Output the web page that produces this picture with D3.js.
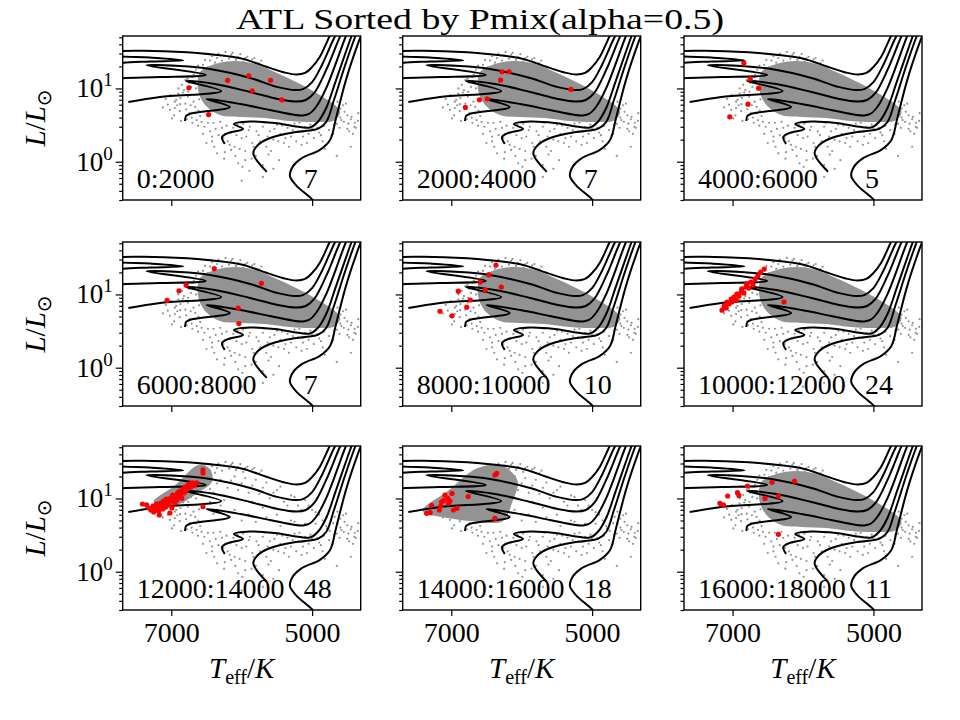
<!DOCTYPE html>
<html>
<head>
<meta charset="utf-8">
<script src="https://cdnjs.cloudflare.com/ajax/libs/d3/7.8.5/d3.min.js"></script>
<style>
body { margin: 0; background: #fff; }
svg { display: block; }
</style>
</head>
<body>
<div id="viz"></div>
<script>
// ========================================
// Data (Teff in K, L in Lsun)
// ========================================

var title = "ATL Sorted by Pmix(alpha=0.5)";
var ranges = ["0:2000", "2000:4000", "4000:6000", "6000:8000", "8000:10000",
              "10000:12000", "12000:14000", "14000:16000", "16000:18000"];
var counts = [7, 7, 5, 7, 10, 24, 48, 18, 11];
var xTicks = [7000, 5000];
var yMajor = [1, 10];
var yMinor = [0.3, 0.4, 0.5, 0.6, 0.7, 0.8, 0.9, 2, 3, 4, 5, 6, 7, 8, 9, 20, 30, 40, 50];

// evolutionary tracks
var tracks = [
  [[7870,21.6],[7690,22.5],[7300,23.3],[6830,24.2],[7300,26.5],[7800,28.6],[7800,31.0],[7260,32.5],[6590,30.2],[6020,25.8],[5650,19.8],[5390,16.5],[5220,15.5],[5100,16.3],[5000,19.6],[4890,27.1],[4750,52],[4680,69]],
  [[7870,13.2],[7690,13.8],[7160,14.3],[6510,15.3],[7350,20.7],[6880,20.2],[6450,18.4],[5880,13.9],[5500,10.5],[5240,9.5],[5130,9.8],[5000,12.2],[4860,20.9],[4680,50.4],[4600,66.8]],
  [[7610,6.53],[7160,7.64],[6290,9.23],[6790,12.6],[6380,11.5],[5880,8.95],[5490,7.18],[5220,6.63],[5090,6.95],[4970,8.67],[4800,17.9],[4600,52],[4530,69]],
  [[6805,3.59],[6790,4.21],[6720,4.55],[6170,5.58],[6500,7.18],[6020,6.13],[5600,5.08],[5240,4.34],[5130,4.28],[5045,4.48],[4945,5.58],[4800,10.1],[4520,52],[4460,69]],
  [[6240,1.75],[6280,2.17],[6195,2.46],[5980,2.80],[6110,3.27],[5880,3.54],[5530,3.38],[5170,2.98],[5030,2.93],[4920,3.48],[4800,5.41],[4660,13.0],[4440,52],[4390,69]],
  [[5645,0.73],[5835,1.30],[5770,1.69],[5630,2.04],[5385,2.39],[5100,2.63],[4920,2.80],[4800,3.48],[4690,6.95],[4530,20.9],[4385,52],[4335,69]],
  [[4920,0.248],[5006,0.31],[5230,0.48],[5315,0.64],[5270,0.87],[5145,1.12],[4890,1.45],[4745,1.98],[4660,3.95],[4520,13.0],[4350,40.5],[4290,57]]
];

// dense part of the background sample
var greyBand = [[6590,16.8],[6380,21.6],[6095,23.7],[5810,21.6],[5530,16.8],[5170,11.5],[4890,8.15],[4660,5.77],[4600,4.77],[4675,3.71],[4960,3.48],[5315,3.59],[5670,3.95],[6025,4.08],[6310,4.34],[6520,5.94],[6620,9.5]];
var greyPatch7 = [[7250,9.0],[6950,15],[6600,29],[6450,25],[6420,17],[6650,11.5],[6950,8.0]];
var greyPatch8 = [[7406,6.74],[7051,12.6],[6625,26.1],[6270,27.7],[6057,17.3],[6128,9.2],[6270,4.9],[6696,4.9],[7051,5.41]];

// sparse background stars
var greyDots = [
  [7020,5.1],[6950,5.4],[6880,4.9],[6800,6.2],[6740,4.6],[6660,5.6],[6590,4.2],[6950,6.6],[6870,7.4],[6780,3.8],
  [6700,3.4],[6620,3.1],[6900,8.5],[7050,6.0],[6820,9.5],[6530,3.0],[6450,2.6],[6400,3.4],[6330,2.3],[6280,2.9],
  [6200,1.9],[6150,2.5],[6100,1.6],[6060,3.2],[6000,2.1],[5950,1.4],[5900,2.7],[5850,1.8],[5800,1.2],[5760,2.3],
  [5700,3.0],[5650,1.6],[5600,2.6],[5550,2.0],[5500,3.2],[5450,2.4],[5400,1.8],[5350,2.9],[5300,2.2],[5250,3.3],
  [5200,2.6],[5150,1.7],[5100,3.0],[5050,2.4],[5000,2.8],[4950,3.2],[4900,2.5],[4850,1.9],[6350,1.3],[6250,1.1],
  [6050,0.95],[5950,1.05],[5700,0.9],[6150,1.45],[4800,4.2],[4750,3.6],[4700,4.6],[4650,3.3],[4600,4.0],[4550,3.5],
  [4500,4.3],[4450,3.8],[4400,3.0],[4350,3.6],[4500,2.8],[4700,2.4],[4820,1.5],[4420,2.4],[4600,5.3],[6650,18.0],
  [6550,21.0],[6450,24.0],[6350,26.0],[6250,28.0],[6150,29.0],[6050,27.0],[5950,26.0],[5850,25.0],[6700,14.5],[6750,12.0],
  [6720,10.5],[5750,22.0],[6500,15],[6400,12],[6300,18],[6200,14],[6100,20],[6000,16],[5900,12],[5800,18],
  [5700,14],[5600,10],[5500,13],[5400,9],[5300,11],[5200,8],[5100,9.5],[5000,7],[4900,6],[4800,5.5],
  [6300,8],[6100,7],[5900,6],[5700,7.5],[5500,6],[5300,5],[5100,4.5],[4950,4.5],[6450,9],[6550,11],
  [6200,5.5],[5800,4.8],
  [7080,7.2],[7010,8.1],[6960,4.3],[6915,5.9],[6860,3.6],[6835,8.8],[6790,5.2],[6765,7.7],[6710,4.0],[6685,6.6],
  [6640,3.7],[6605,7.1],[7120,5.5],[6990,3.9],[6930,7.0],[6875,6.1],[6725,5.9],[6655,4.6],[6570,3.5],[6615,5.0],
  [6480,3.4],[6420,2.2],[6370,2.8],[6305,3.5],[6260,2.1],[6215,3.1],[6170,1.7],[6120,2.9],[6075,2.3],[6030,1.5],
  [5980,3.3],[5935,2.2],[5885,3.0],[5830,1.6],[5790,2.6],[5735,1.9],[5680,3.4],[5630,2.2],[5585,1.4],[5535,2.8],
  [5480,1.9],[5425,3.1],[5380,2.1],[5330,1.6],[5275,2.7],[5225,1.9],[5180,3.4],[5130,2.2],[5075,1.8],[5025,3.2],
  [4975,2.1],[4925,2.9],[4875,2.3],[4830,3.1],[6390,1.6],[6240,1.35],[6090,1.2],[5990,0.85],[5860,1.1],[5620,1.25],
  [5470,1.05],[5890,0.75],[6420,1.9],[6550,2.4],[6500,1.8],
  [4790,3.9],[4735,5.0],[4690,3.2],[4640,4.5],[4585,3.7],[4540,4.8],[4485,3.3],[4440,4.1],[4395,3.4],[4345,4.6],
  [4475,2.6],[4610,2.9],[4760,2.7],[4560,5.9],[4680,5.6],[4380,2.9],[4520,6.2],[4640,6.6],
  [6620,20.5],[6520,24.5],[6420,27.5],[6330,30.0],[6230,31.5],[6130,30.5],[6020,29.5],[5920,27.0],[5820,26.0],[5720,24.0],
  [6480,19.5],[6380,22.5],[6280,24.0],[6180,25.5],[6080,24.5],[5980,23.0],[6570,16.5],[6680,15.5],[6770,13.5],[6760,9.0],
  [6850,11.2],[6800,13.0],[6700,12.5],[6650,10.0],[6900,10.0],
  [6000,0.55],[5700,0.62],[5550,0.8],[4650,1.2],[4450,1.6],
  [6450,13.5],[6350,16],[6250,11],[6150,17.5],[6050,13],[5950,19],[5850,15],[5750,11.5],[5650,16.5],[5550,12],
  [5450,14.5],[5350,8],[5250,10.5],[5150,7],[5050,8],[4950,6.5],[4850,5],[4750,4.5],[5650,5.5],[5450,4.2],
  [5250,4.8],[6000,5],[6400,6.2],[6250,9.5],[5850,9]
];

// selected stars, one list per bin
var red0 = [[6750,10.2],[6470,4.4],[6200,12.9],[5900,14.9],[5850,9.3],[5590,12.9],[5430,7.0]];
var red1 = [[6800,5.5],[6600,7.0],[6490,7.2],[6300,13.0],[6280,16.9],[6180,16.9],[5300,9.7]];
var red2 = [[6840,22.2],[6750,13.5],[6780,6.1],[7040,4.1],[6630,10.1]];
var red3 = [[6390,22.5],[6790,13.5],[6890,11.2],[7060,8.3],[6050,6.5],[6040,4.0],[5720,14.2]];
var red4 = [[6365,25.2],[6465,18.5],[6590,14.8],[6730,8.4],[6900,11.1],[7160,5.9],[6990,5.1],[6520,11.5],[6290,12.6],[6780,6.7]];
var red5 = [[7150,6.1],[7120,6.95],[7090,6.53],[7080,7.89],[7050,7.41],[7020,8.67],[7010,7.89],[6980,9.2],[6950,8.4],[6940,10.1],
            [6910,9.5],[6880,10.8],[6870,11.9],[6840,10.5],[6810,12.6],[6800,13.9],[6770,12.2],[6740,14.8],[6710,13.5],[6680,16.3],
            [6640,17.9],[6600,20.2],[6550,22.2],[6270,7.9]];
var red6 = [[7350,8.15],[7320,7.41],[7290,6.95],[7260,7.89],[7250,6.53],[7220,7.18],[7210,8.4],[7190,7.64],[7180,6.74],[7170,5.94],
            [7150,8.67],[7140,7.89],[7120,7.18],[7110,9.2],[7090,8.4],[7080,7.64],[7070,9.8],[7050,8.95],[7040,8.15],[7020,6.33],
            [7010,10.1],[6990,9.2],[6990,7.41],[6980,11.1],[6970,9.8],[6950,8.67],[6940,10.8],[6920,9.5],[6910,11.9],[6900,10.5],
            [6880,12.6],[6870,11.5],[6850,10.1],[6840,13.0],[6820,11.9],[6810,13.9],[6800,12.6],[6780,14.8],[6770,13.5],[6750,15.7],
            [6720,14.3],[6700,16.3],[6670,15.3],[6640,16.3],[6550,24.5],[6550,22.2],[6550,7.7],[7410,8.4]];
var red7 = [[7350,6.27],[7300,6.39],[7280,8.07],[7170,6.95],[7140,8.95],[7110,9.32],[7090,11.1],[7050,10.0],[7040,8.59],
            [6990,11.7],[6970,6.95],[6920,7.34],[6760,10.6],[6380,20.9],[6355,22.0],[6380,5.36],[7150,7.89],[7020,9.22]];
var red8 = [[7180,8.59],[7130,8.15],[7070,10.8],[6930,12.0],[6910,11.0],[6790,14.8],[6540,10.0],[6440,16.6],[6350,10.8],[6120,17.2],[6350,3.24]];
var redSets = [red0, red1, red2, red3, red4, red5, red6, red7, red8];

// which dense patch each panel shows
var patches = [greyBand, greyBand, greyBand, greyBand, greyBand, greyBand, greyPatch7, greyPatch8, greyBand];

// ========================================
// Layout
// ========================================

var W = 960, H = 720;
var panelW = 238, panelH = 164;
var colX = [122.7, 402.7, 684];
var rowY = [36, 242, 446];
var font = "'Liberation Serif', 'DejaVu Serif', serif";
var grey = '#939393';

var svg = d3.select("#viz").append("svg")
   .attr("width", W)
   .attr("height", H)
   .style("background-color", "#fff");

var x = d3.scaleLinear().domain([7690, 4310]).range([0, panelW]);
var y = d3.scaleLog().domain([0.30, 52]).range([panelH, 0]);

var trackLine = d3.line()
   .x(d => x(d[0])).y(d => y(d[1]))
   .curve(d3.curveCatmullRom.alpha(0.5));
var patchLine = d3.line()
   .x(d => x(d[0])).y(d => y(d[1]))
   .curve(d3.curveCatmullRomClosed.alpha(0.5));

svg.append("text")
   .attr("x", 480).attr("y", 29)
   .attr("text-anchor", "middle")
   .attr("textLength", 488)
   .attr("lengthAdjust", "spacingAndGlyphs")
   .style("font-family", font)
   .style("font-size", "30px")
   .text(title);

svg.append("defs").append("clipPath").attr("id", "clip")
   .append("rect").attr("width", panelW).attr("height", panelH);

ranges.forEach((label, i) => {
   var r = Math.floor(i / 3), c = i % 3;
   var g = svg.append("g").attr("transform", `translate(${colX[c]}, ${rowY[r]})`);
   var plot = g.append("g").attr("clip-path", "url(#clip)");

   plot.append("path")
      .attr("d", patchLine(patches[i]))
      .style("fill", grey)
      .style("stroke", "none");

   plot.selectAll(".bg")
      .data(greyDots)
      .enter()
      .append("circle")
      .attr("class", "bg")
      .attr("cx", d => x(d[0]))
      .attr("cy", d => y(d[1]))
      .attr("r", 1.1)
      .style("fill", grey);

   plot.selectAll(".track")
      .data(tracks)
      .enter()
      .append("path")
      .attr("class", "track")
      .attr("d", trackLine)
      .style("fill", "none")
      .style("stroke", "#000")
      .style("stroke-width", 2);

   plot.selectAll(".sel")
      .data(redSets[i])
      .enter()
      .append("circle")
      .attr("class", "sel")
      .attr("cx", d => x(d[0]))
      .attr("cy", d => y(d[1]))
      .attr("r", 2.6)
      .style("fill", "red");

   g.append("text")
      .attr("x", 14).attr("y", 152)
      .style("font-family", font).style("font-size", "28px")
      .text(label);
   g.append("text")
      .attr("x", 181).attr("y", 152)
      .style("font-family", font).style("font-size", "28px")
      .text(counts[i]);

   // axes
   var xa = g.append("g").attr("transform", `translate(0, ${panelH})`)
      .call(d3.axisBottom(x).tickValues(xTicks).tickSize(6).tickPadding(6)
         .tickFormat(r === 2 ? d3.format("d") : ""));
   var ya = g.append("g")
      .call(d3.axisLeft(y).tickValues(yMajor).tickSize(7).tickFormat(""));
   var ym = g.append("g")
      .call(d3.axisLeft(y).tickValues(yMinor).tickSize(3.5).tickFormat(""));
   [xa, ya, ym].forEach(a => {
      a.select(".domain").remove();
      a.selectAll("line").style("stroke", "#000").style("stroke-width", 1.2);
      a.selectAll("text").style("font-family", font).style("font-size", "28px").style("fill", "#000");
   });

   if (c === 0) {
      yMajor.forEach(v => {
         var t = g.append("text")
            .attr("x", -10).attr("y", y(v) + 9)
            .attr("text-anchor", "end")
            .style("font-family", font).style("font-size", "27px");
         t.append("tspan").text("10");
         t.append("tspan").attr("dy", -11).style("font-size", "19px").text(String(Math.round(Math.log10(v))));
      });
      var yl = g.append("text")
         .attr("transform", `translate(${45 - colX[0]}, ${panelH / 2}) rotate(-90)`)
         .attr("text-anchor", "middle")
         .style("font-family", font).style("font-size", "29px");
      yl.append("tspan").style("font-style", "italic").text("L");
      yl.append("tspan").text("/");
      yl.append("tspan").style("font-style", "italic").text("L");
      yl.append("tspan").attr("dy", 6).style("font-size", "20px").style("font-family", "'DejaVu Sans'").text("\u2299");
   }
   if (r === 2) {
      var xl = g.append("text")
         .attr("x", panelW / 2).attr("y", 232)
         .attr("text-anchor", "middle")
         .style("font-family", font).style("font-size", "29px");
      xl.append("tspan").style("font-style", "italic").text("T");
      xl.append("tspan").attr("dy", 6).style("font-size", "20px").text("eff");
      xl.append("tspan").attr("dy", -6).text("/");
      xl.append("tspan").style("font-style", "italic").text("K");
   }

   g.append("rect")
      .attr("width", panelW).attr("height", panelH)
      .style("fill", "none")
      .style("stroke", "#000")
      .style("stroke-width", 1.4);
});
</script>
</body>
</html>
